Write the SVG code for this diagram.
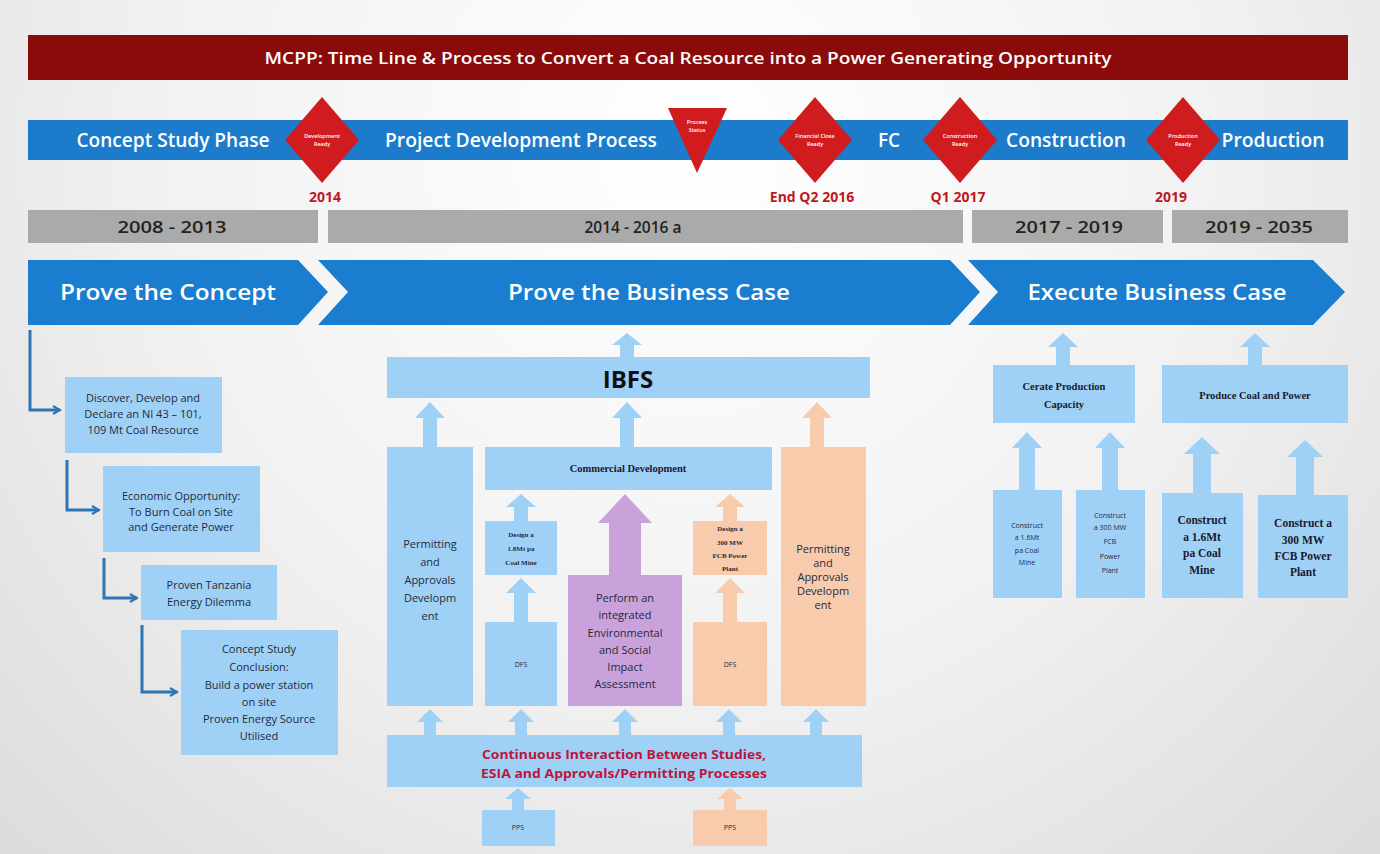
<svg xmlns="http://www.w3.org/2000/svg" width="1380" height="854" viewBox="0 0 1380 854">
  <defs>
    <radialGradient id="bg" cx="690" cy="150" r="980" gradientUnits="userSpaceOnUse">
      <stop offset="0" stop-color="#ffffff"/>
      <stop offset="0.55" stop-color="#f1f1f1"/>
      <stop offset="1" stop-color="#dcdcdc"/>
    </radialGradient>
    <marker id="openArrow" viewBox="0 0 10 10" refX="8" refY="5" markerWidth="10" markerHeight="10" markerUnits="userSpaceOnUse" orient="auto">
      <polyline points="1,1 8,5 1,9" fill="none" stroke="#2e75b6" stroke-width="2.2"/>
    </marker>
  </defs>
  <style>
    .sans { font-family: "Open Sans", "Liberation Sans", sans-serif; }
    .serif { font-family: "Liberation Serif", "DejaVu Serif", serif; }
    .title { font-size: 17px; font-weight: 600; fill: #ffffff; }
    .phase { font-size: 19px; font-weight: 600; fill: #ffffff; }
    .gate { font-size: 5.5px; font-weight: 600; fill: #ffffff; }
    .year { font-size: 14px; font-weight: 700; fill: #c0181e; }
    .period { font-size: 16px; font-weight: 600; fill: #222222; }
    .chev { font-size: 22px; font-weight: 600; fill: #ffffff; }
    .box { fill: #9fd1f7; }
    .peach { fill: #f8cbad; }
    .purple { fill: #c9a2dc; }
    .txt { font-size: 11px; fill: #1f2a3a; }
    .tiny { font-size: 7px; fill: #1f2a3a; }
    .tinyb { font-size: 7px; font-weight: 700; fill: #1f2a3a; }
    .hdr { font-size: 10.5px; font-weight: 700; fill: #1a1a2a; }
    .big { font-size: 11.5px; font-weight: 700; fill: #1a1a2a; }
    .flow { fill: none; stroke: #2e75b6; stroke-width: 3; marker-end: url(#openArrow); }
  </style>

  <!-- backdrop -->
  <rect x="0" y="0" width="1380" height="854" fill="url(#bg)"/>

  <!-- title banner -->
  <g id="title">
    <rect x="28" y="35" width="1320" height="45" fill="#8b0b0b"/>
    <text class="sans title" x="688" y="64" text-anchor="middle" textLength="847" lengthAdjust="spacingAndGlyphs">MCPP: Time Line &amp; Process to Convert a Coal Resource into a Power Generating Opportunity</text>
  </g>

  <!-- phase banner -->
  <g id="phase-bar">
    <rect x="28" y="120" width="1320" height="40" fill="#1d7bcb"/>
    <text class="sans phase" x="173" y="147" text-anchor="middle" textLength="193" lengthAdjust="spacingAndGlyphs">Concept Study Phase</text>
    <text class="sans phase" x="521" y="147" text-anchor="middle" textLength="272" lengthAdjust="spacingAndGlyphs">Project Development Process</text>
    <text class="sans phase" x="889" y="147" text-anchor="middle" textLength="22" lengthAdjust="spacingAndGlyphs">FC</text>
    <text class="sans phase" x="1066" y="147" text-anchor="middle" textLength="120" lengthAdjust="spacingAndGlyphs">Construction</text>
    <text class="sans phase" x="1273" y="147" text-anchor="middle" textLength="103" lengthAdjust="spacingAndGlyphs">Production</text>
  </g>

  <!-- gates -->
  <g id="gate-development">
    <polygon points="322,97 359,140 322,183 285,140" fill="#d01c1f"/>
    <text class="sans gate" x="322" y="138" text-anchor="middle">Development</text>
    <text class="sans gate" x="322" y="146" text-anchor="middle">Ready</text>
    <text class="sans year" x="325" y="202" text-anchor="middle">2014</text>
  </g>
  <g id="gate-status">
    <polygon points="668,108 727,108 697,173" fill="#d01c1f"/>
    <text class="sans gate" x="697" y="124" text-anchor="middle">Process</text>
    <text class="sans gate" x="697" y="132" text-anchor="middle">Status</text>
  </g>
  <g id="gate-financial">
    <polygon points="815,97 852,140 815,183 778,140" fill="#d01c1f"/>
    <text class="sans gate" x="815" y="138" text-anchor="middle">Financial Close</text>
    <text class="sans gate" x="815" y="146" text-anchor="middle">Ready</text>
    <text class="sans year" x="812" y="202" text-anchor="middle">End Q2 2016</text>
  </g>
  <g id="gate-construction">
    <polygon points="960,97 997,140 960,183 923,140" fill="#d01c1f"/>
    <text class="sans gate" x="960" y="138" text-anchor="middle">Construction</text>
    <text class="sans gate" x="960" y="146" text-anchor="middle">Ready</text>
    <text class="sans year" x="958" y="202" text-anchor="middle">Q1 2017</text>
  </g>
  <g id="gate-production">
    <polygon points="1183,97 1220,140 1183,183 1146,140" fill="#d01c1f"/>
    <text class="sans gate" x="1183" y="138" text-anchor="middle">Production</text>
    <text class="sans gate" x="1183" y="146" text-anchor="middle">Ready</text>
    <text class="sans year" x="1171" y="202" text-anchor="middle">2019</text>
  </g>

  <!-- periods -->
  <g id="periods">
    <rect x="28" y="210" width="290" height="33" fill="#aaaaaa"/>
    <rect x="328" y="210" width="635" height="33" fill="#aaaaaa"/>
    <rect x="972" y="210" width="191" height="33" fill="#aaaaaa"/>
    <rect x="1172" y="210" width="176" height="33" fill="#aaaaaa"/>
    <text class="sans period" x="172" y="233" text-anchor="middle" textLength="109" lengthAdjust="spacingAndGlyphs">2008 - 2013</text>
    <text class="sans period" x="633" y="233" text-anchor="middle" textLength="97" lengthAdjust="spacingAndGlyphs">2014 - 2016  a</text>
    <text class="sans period" x="1069" y="233" text-anchor="middle" textLength="108" lengthAdjust="spacingAndGlyphs">2017 - 2019</text>
    <text class="sans period" x="1259" y="233" text-anchor="middle" textLength="108" lengthAdjust="spacingAndGlyphs">2019 - 2035</text>
  </g>

  <!-- stage chevrons -->
  <g id="stage-concept">
    <polygon points="28,260 298,260 328,292 298,325 28,325" fill="#1a7dd0"/>
    <text class="sans chev" x="168" y="300" text-anchor="middle" textLength="216" lengthAdjust="spacingAndGlyphs">Prove the Concept</text>
  </g>
  <g id="stage-business">
    <polygon points="318,260 950,260 980,292 950,325 318,325 348,292" fill="#1a7dd0"/>
    <text class="sans chev" x="649" y="300" text-anchor="middle" textLength="282" lengthAdjust="spacingAndGlyphs">Prove the Business Case</text>
  </g>
  <g id="stage-execute">
    <polygon points="968,260 1313,260 1345,292 1313,325 968,325 998,292" fill="#1a7dd0"/>
    <text class="sans chev" x="1157" y="300" text-anchor="middle" textLength="259" lengthAdjust="spacingAndGlyphs">Execute Business Case</text>
  </g>

  <!-- concept steps -->
  <g id="step-discover">
    <rect class="box" x="65" y="377" width="157" height="76"/>
    <text class="sans txt" x="143" y="402" text-anchor="middle">Discover, Develop and</text>
    <text class="sans txt" x="143" y="418" text-anchor="middle">Declare an NI 43 – 101,</text>
    <text class="sans txt" x="143" y="434" text-anchor="middle">109 Mt Coal Resource</text>
  </g>
  <g id="step-opportunity">
    <rect class="box" x="103" y="466" width="157" height="86"/>
    <text class="sans txt" x="181" y="500" text-anchor="middle">Economic Opportunity:</text>
    <text class="sans txt" x="181" y="516" text-anchor="middle">To Burn Coal on Site</text>
    <text class="sans txt" x="181" y="531" text-anchor="middle">and Generate Power</text>
  </g>
  <g id="step-dilemma">
    <rect class="box" x="141" y="565" width="136" height="55"/>
    <text class="sans txt" x="209" y="589" text-anchor="middle">Proven Tanzania</text>
    <text class="sans txt" x="209" y="606" text-anchor="middle">Energy Dilemma</text>
  </g>
  <g id="step-conclusion">
    <rect class="box" x="181" y="630" width="157" height="125"/>
    <text class="sans txt" x="259" y="653" text-anchor="middle">Concept Study</text>
    <text class="sans txt" x="259" y="671" text-anchor="middle">Conclusion:</text>
    <text class="sans txt" x="259" y="689" text-anchor="middle">Build a power station</text>
    <text class="sans txt" x="259" y="706" text-anchor="middle">on site</text>
    <text class="sans txt" x="259" y="723" text-anchor="middle">Proven Energy Source</text>
    <text class="sans txt" x="259" y="740" text-anchor="middle">Utilised</text>
  </g>

  <!-- business case blocks -->
  <g id="ibfs">
    <rect class="box" x="387" y="357" width="483" height="41"/>
    <text class="sans" x="628" y="388" text-anchor="middle" font-size="24" font-weight="700" fill="#111111">IBFS</text>
  </g>
  <g id="permitting-left">
    <rect class="box" x="387" y="447" width="86" height="259"/>
    <text class="sans txt" x="430" y="548" text-anchor="middle">Permitting</text>
    <text class="sans txt" x="430" y="566" text-anchor="middle">and</text>
    <text class="sans txt" x="430" y="584" text-anchor="middle">Approvals</text>
    <text class="sans txt" x="430" y="602" text-anchor="middle">Developm</text>
    <text class="sans txt" x="430" y="620" text-anchor="middle">ent</text>
  </g>
  <g id="commercial">
    <rect class="box" x="485" y="447" width="287" height="43"/>
    <text class="serif hdr" x="628" y="472" text-anchor="middle">Commercial Development</text>
  </g>
  <g id="design-mine">
    <rect class="box" x="485" y="521" width="72" height="54"/>
    <text class="serif tinyb" x="521" y="537" text-anchor="middle">Design a</text>
    <text class="serif tinyb" x="521" y="551" text-anchor="middle">1.8Mt pa</text>
    <text class="serif tinyb" x="521" y="565" text-anchor="middle">Coal Mine</text>
  </g>
  <g id="dfs-mine">
    <rect class="box" x="485" y="622" width="72" height="84"/>
    <text class="sans tiny" x="521" y="667" text-anchor="middle">DFS</text>
  </g>
  <g id="esia">
    <rect class="purple" x="568" y="575" width="114" height="131"/>
    <text class="sans txt" x="625" y="602" text-anchor="middle" fill="#2e2040">Perform an</text>
    <text class="sans txt" x="625" y="619" text-anchor="middle">integrated</text>
    <text class="sans txt" x="625" y="637" text-anchor="middle">Environmental</text>
    <text class="sans txt" x="625" y="654" text-anchor="middle">and Social</text>
    <text class="sans txt" x="625" y="671" text-anchor="middle">Impact</text>
    <text class="sans txt" x="625" y="688" text-anchor="middle">Assessment</text>
  </g>
  <g id="design-plant">
    <rect class="peach" x="693" y="521" width="74" height="54"/>
    <text class="serif tinyb" x="730" y="531" text-anchor="middle">Design a</text>
    <text class="serif tinyb" x="730" y="545" text-anchor="middle">300 MW</text>
    <text class="serif tinyb" x="730" y="558" text-anchor="middle">FCB Power</text>
    <text class="serif tinyb" x="730" y="571" text-anchor="middle">Plant</text>
  </g>
  <g id="dfs-plant">
    <rect class="peach" x="693" y="622" width="74" height="84"/>
    <text class="sans tiny" x="730" y="667" text-anchor="middle">DFS</text>
  </g>
  <g id="permitting-right">
    <rect class="peach" x="781" y="447" width="85" height="259"/>
    <text class="sans txt" x="823" y="553" text-anchor="middle">Permitting</text>
    <text class="sans txt" x="823" y="567" text-anchor="middle">and</text>
    <text class="sans txt" x="823" y="581" text-anchor="middle">Approvals</text>
    <text class="sans txt" x="823" y="595" text-anchor="middle">Developm</text>
    <text class="sans txt" x="823" y="609" text-anchor="middle">ent</text>
  </g>
  <g id="interaction">
    <rect class="box" x="387" y="735" width="475" height="52"/>
    <text class="sans" x="624" y="759" text-anchor="middle" font-size="13" font-weight="700" fill="#c0143c" textLength="284" lengthAdjust="spacingAndGlyphs">Continuous Interaction Between Studies,</text>
    <text class="sans" x="624" y="778" text-anchor="middle" font-size="13" font-weight="700" fill="#c0143c" textLength="286" lengthAdjust="spacingAndGlyphs">ESIA and Approvals/Permitting Processes</text>
  </g>
  <g id="pps-mine">
    <rect class="box" x="482" y="810" width="73" height="36"/>
    <text class="sans tiny" x="518" y="830" text-anchor="middle">PPS</text>
  </g>
  <g id="pps-plant">
    <rect class="peach" x="693" y="810" width="74" height="36"/>
    <text class="sans tiny" x="730" y="830" text-anchor="middle">PPS</text>
  </g>

  <!-- execution blocks -->
  <g id="create-capacity">
    <rect class="box" x="993" y="365" width="142" height="58"/>
    <text class="serif hdr" x="1064" y="390" text-anchor="middle">Cerate Production</text>
    <text class="serif hdr" x="1064" y="408" text-anchor="middle">Capacity</text>
  </g>
  <g id="produce">
    <rect class="box" x="1162" y="365" width="186" height="58"/>
    <text class="serif hdr" x="1255" y="399" text-anchor="middle">Produce Coal and Power</text>
  </g>
  <g id="construct-mine-a">
    <rect class="box" x="993" y="490" width="69" height="108"/>
    <text class="sans tiny" x="1027" y="528" text-anchor="middle">Construct</text>
    <text class="sans tiny" x="1027" y="540" text-anchor="middle">a 1.6Mt</text>
    <text class="sans tiny" x="1027" y="553" text-anchor="middle">pa Coal</text>
    <text class="sans tiny" x="1027" y="565" text-anchor="middle">Mine</text>
  </g>
  <g id="construct-plant-a">
    <rect class="box" x="1076" y="490" width="69" height="108"/>
    <text class="sans tiny" x="1110" y="518" text-anchor="middle">Construct</text>
    <text class="sans tiny" x="1110" y="530" text-anchor="middle">a 300 MW</text>
    <text class="sans tiny" x="1110" y="544" text-anchor="middle">FCB</text>
    <text class="sans tiny" x="1110" y="559" text-anchor="middle">Power</text>
    <text class="sans tiny" x="1110" y="573" text-anchor="middle">Plant</text>
  </g>
  <g id="construct-mine-b">
    <rect class="box" x="1162" y="493" width="81" height="105"/>
    <text class="serif big" x="1202" y="524" text-anchor="middle">Construct</text>
    <text class="serif big" x="1202" y="541" text-anchor="middle">a 1.6Mt</text>
    <text class="serif big" x="1202" y="557" text-anchor="middle">pa  Coal</text>
    <text class="serif big" x="1202" y="574" text-anchor="middle">Mine</text>
  </g>
  <g id="construct-plant-b">
    <rect class="box" x="1258" y="495" width="90" height="103"/>
    <text class="serif big" x="1303" y="527" text-anchor="middle">Construct  a</text>
    <text class="serif big" x="1303" y="544" text-anchor="middle">300 MW</text>
    <text class="serif big" x="1303" y="560" text-anchor="middle">FCB Power</text>
    <text class="serif big" x="1303" y="576" text-anchor="middle">Plant</text>
  </g>

  <!-- connectors -->
  <g id="connectors">
    <!-- concept study cascade -->
    <path class="flow" d="M30,330 V410 H60"/>
    <path class="flow" d="M67,460 V510 H99"/>
    <path class="flow" d="M104,558 V598 H137"/>
    <path class="flow" d="M142,625 V692 H177"/>

    <!-- block arrows, blue -->
    <g fill="#9fd1f7">
      <polygon points="627,333 642,345 634,345 634,357 620,357 620,345 612,345"/>
      <polygon points="430,402 445,418 437,418 437,447 423,447 423,418 415,418"/>
      <polygon points="627,402 642,418 634,418 634,447 620,447 620,418 612,418"/>
      <polygon points="521,494 536,507 528,507 528,521 514,521 514,507 506,507"/>
      <polygon points="521,578 536,593 528,593 528,622 514,622 514,593 506,593"/>
      <polygon points="430,709 443,722 436,722 436,735 424,735 424,722 417,722"/>
      <polygon points="521,709 534,722 527,722 527,735 515,735 515,722 508,722"/>
      <polygon points="625,709 638,722 631,722 631,735 619,735 619,722 612,722"/>
      <polygon points="729,709 742,722 735,722 735,735 723,735 723,722 716,722"/>
      <polygon points="816,709 829,722 822,722 822,735 810,735 810,722 803,722"/>
      <polygon points="518,788 531,799 524,799 524,810 512,810 512,799 505,799"/>
      <polygon points="1063,333 1078,347 1070,347 1070,365 1056,365 1056,347 1048,347"/>
      <polygon points="1255,333 1270,347 1262,347 1262,365 1248,365 1248,347 1240,347"/>
      <polygon points="1027,432 1042,448 1035,448 1035,490 1019,490 1019,448 1012,448"/>
      <polygon points="1110,432 1125,448 1118,448 1118,490 1102,490 1102,448 1095,448"/>
      <polygon points="1202,437 1220,454 1211,454 1211,493 1193,493 1193,454 1184,454"/>
      <polygon points="1305,440 1323,457 1314,457 1314,495 1296,495 1296,457 1287,457"/>
    </g>
    <!-- block arrows, peach -->
    <g fill="#f8cbad">
      <polygon points="817,402 832,418 824,418 824,447 810,447 810,418 802,418"/>
      <polygon points="730,494 745,507 737,507 737,521 723,521 723,507 715,507"/>
      <polygon points="730,578 745,593 737,593 737,622 723,622 723,593 715,593"/>
      <polygon points="730,788 743,799 736,799 736,810 724,810 724,799 717,799"/>
    </g>
    <!-- block arrow, purple -->
    <polygon points="625,494 652,523 641,523 641,575 609,575 609,523 598,523" fill="#c9a2dc"/>
  </g>
</svg>
